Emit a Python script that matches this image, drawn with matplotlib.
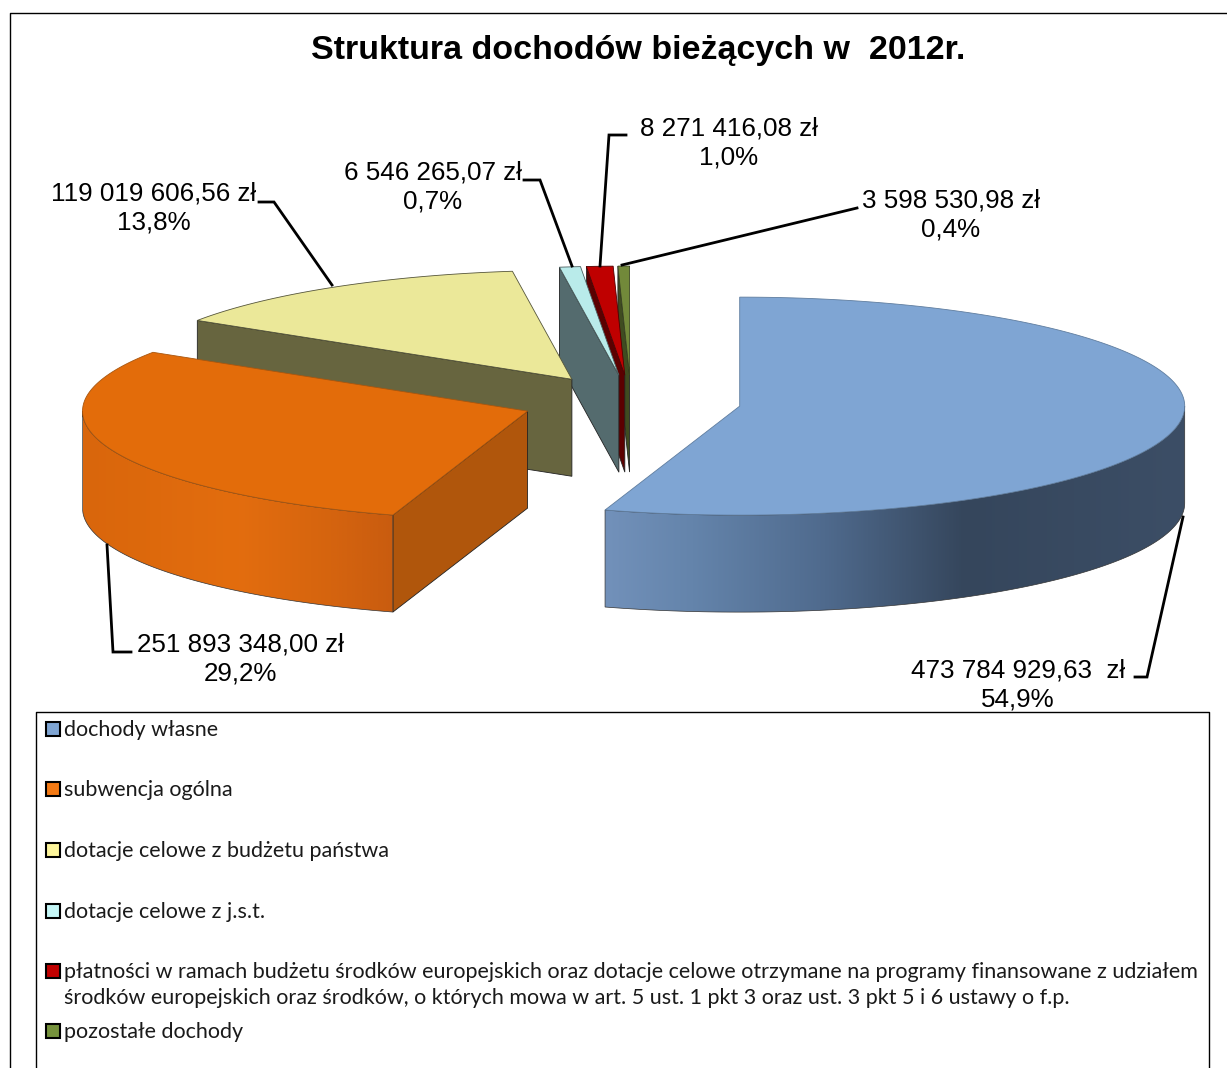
import numpy as np
import matplotlib
matplotlib.use("Agg")
import matplotlib.pyplot as plt
from matplotlib.colors import LinearSegmentedColormap
from matplotlib.patches import Polygon, Rectangle

names = [
    "dochody własne",
    "subwencja ogólna",
    "dotacje celowe z budżetu państwa",
    "dotacje celowe z j.s.t.",
    "płatności w ramach budżetu środków europejskich oraz dotacje celowe otrzymane na programy finansowane z udziałem\n"
    "środków europejskich oraz środków, o których mowa w art. 5 ust. 1 pkt 3 oraz ust. 3 pkt 5 i 6 ustawy o f.p.",
    "pozostałe dochody",
]
values = [473784929.63, 251893348.00, 119019606.56, 6546265.07, 8271416.08, 3598530.98]
colors = ["#7fa5d3", "#e36c0a", "#ebe899", "#b9ebea", "#bf0000", "#72893a"]
edge_colors = ["#5f7d9f", "#a8560f", "#55553a", "#4c5f60", "#500000", "#3a4420"]
wall_colors = ["#3a4c64", "#b0560c", "#67653f", "#546b6e", "#5c0000", "#3f4c20"]
legend_colors = ["#7fa5d3", "#f47a14", "#fdf59b", "#c5f7f7", "#c00000", "#76923c"]
amount_labels = ["473 784 929,63  zł", "251 893 348,00 zł", "119 019 606,56 zł",
                 "6 546 265,07 zł", "8 271 416,08 zł", "3 598 530,98 zł"]
percent_labels = ["54,9%", "29,2%", "13,8%", "0,7%", "1,0%", "0,4%"]

# pie geometry in pixels
CX, CY = 631, 402
RX, RY = 445, 109
EXPLODE = 110
DEPTH = 97

label_pos = [(1018, 685), (240, 659), (154, 208), (433, 187), (729, 143), (951, 215)]
leaders = [
    [(1183, 517), (1147, 677), (1135, 677)],
    [(107, 545), (113, 652), (131, 652)],
    [(332, 285), (274, 202), (259, 202)],
    [(572, 266), (540, 180), (524, 180)],
    [(600, 266), (609, 135), (626, 135)],
    [(622, 265), (857, 208)],
]
legend_y = [729, 789, 850, 911, 971, 1031]

fig = plt.figure(figsize=(12.27, 10.68), dpi=100)
ax = fig.add_axes([0, 0, 1, 1])


def pt(apex, a):
    return apex[0] + RX * np.sin(a), apex[1] - RY * np.cos(a)


def gradient_wall(poly_pts, stops, z):
    cmap = LinearSegmentedColormap.from_list("w", stops)
    xs = [p[0] for p in poly_pts]
    ys = [p[1] for p in poly_pts]
    extent = [min(xs), max(xs), max(ys), min(ys)]
    poly = Polygon(poly_pts, closed=True, fc="none", ec="#333333", lw=0.5, zorder=z + 0.1)
    ax.add_patch(poly)
    im = ax.imshow(np.linspace(0, 1, 256).reshape(1, -1), cmap=cmap, extent=extent,
                   aspect="auto", zorder=z)
    im.set_clip_path(poly)


total = sum(values)
edges = np.concatenate([[0], np.cumsum(values)]) / total * 2 * np.pi
draw_order = [5, 4, 3, 2, 1, 0]

for z, i in enumerate(draw_order):
    a0, a1 = edges[i], edges[i + 1]
    mid = (a0 + a1) / 2
    apex = (CX + EXPLODE * np.sin(mid), CY - EXPLODE * RY / RX * np.cos(mid))
    z = z * 2 + 2

    # radial wall on the starting edge
    if np.pi < a0 < 2 * np.pi:
        p = pt(apex, a0)
        ax.add_patch(Polygon([p, apex, (apex[0], apex[1] + DEPTH), (p[0], p[1] + DEPTH)],
                             closed=True, fc=wall_colors[i], ec="#222222", lw=0.6, zorder=z))

    # outer wall, only the part facing the viewer
    w0, w1 = max(a0, np.pi / 2), min(a1, 3 * np.pi / 2)
    if w0 < w1:
        t = np.linspace(w0, w1, 120)
        top = [pt(apex, a) for a in t]
        bottom = [(x, y + DEPTH) for x, y in reversed(top)]
        if i == 0:
            stops = [(0, "#7291ba"), (0.15, "#6484ab"), (0.38, "#4f6a8d"),
                     (0.62, "#35465c"), (1, "#3c4e66")]
        else:
            stops = [(0, "#d9660c"), (0.5, "#e36d0e"), (0.8, "#d5640f"), (1, "#c95c0f")]
        gradient_wall(top + bottom, stops, z + 0.2)

    # top face
    t = np.linspace(a0, a1, 200)
    ax.add_patch(Polygon([apex] + [pt(apex, a) for a in t], closed=True, fc=colors[i],
                         ec=edge_colors[i], lw=0.6, zorder=z + 0.5))

# leader lines and data labels
for line in leaders:
    ax.plot([p[0] for p in line], [p[1] for p in line], color="black", lw=2, zorder=30,
            solid_joinstyle="miter")
for pos, amount, pct in zip(label_pos, amount_labels, percent_labels):
    ax.text(pos[0], pos[1], amount + "\n" + pct, ha="center", va="center", fontsize=18.7,
            family="Liberation Sans", linespacing=1.23, zorder=31)

ax.text(638.5, 50, "Struktura dochodów bieżących w  2012r.", ha="center", va="center",
        fontsize=24.5, fontweight="bold", family="Liberation Sans")

# chart frame and legend box
ax.plot([10, 10, 1227], [1068, 13, 13], color="black", lw=1)
ax.plot([36, 36, 1209, 1209], [1068, 712, 712, 1068], color="black", lw=1)
for y, name, c in zip(legend_y, names, legend_colors):
    ax.add_patch(Rectangle((46, y - 7), 14, 14, fc=c, ec="black", lw=1.5))
    va_y = y + 14 if "\n" in name else y + 1
    ax.text(64, va_y, name, ha="left", va="center", fontsize=15.47, family="Lato",
            color="#1a1a1a", linespacing=1.42)

ax.set_xlim(0, 1227)
ax.set_ylim(1068, 0)
ax.axis("off")

fig.savefig("out.png", dpi=100, facecolor="white")
